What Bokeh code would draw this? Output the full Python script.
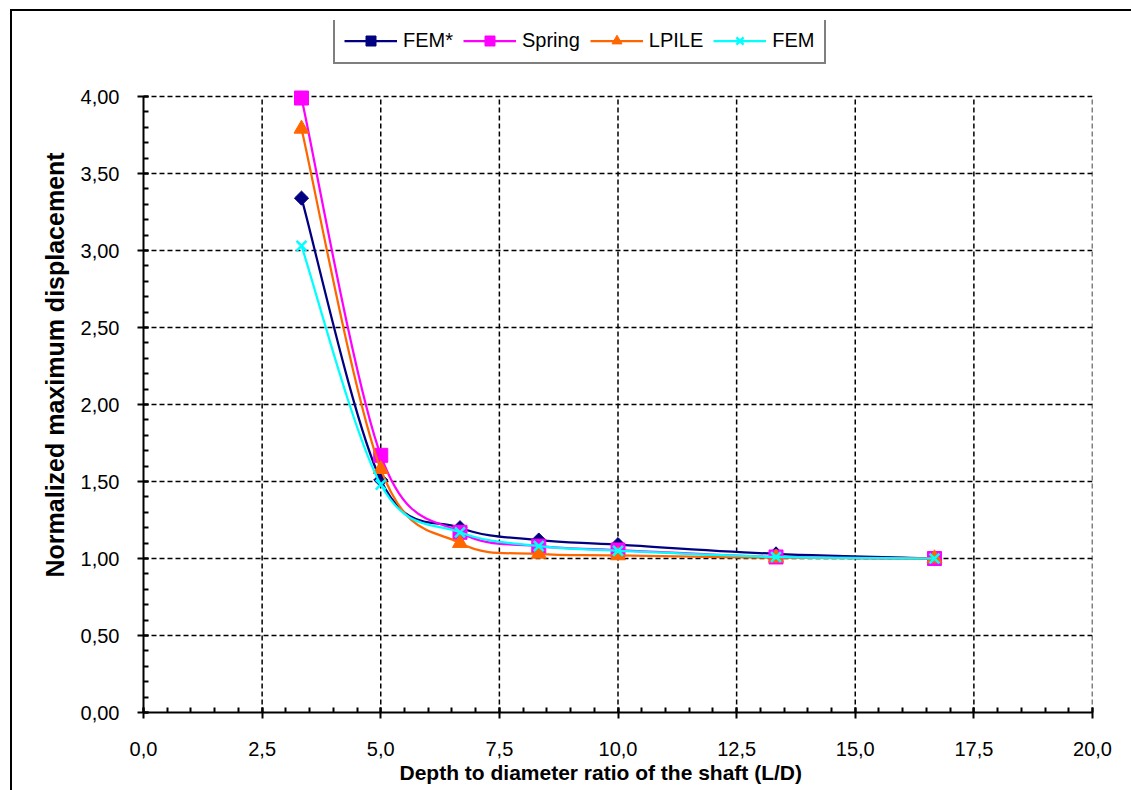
import numpy as np
from bokeh.plotting import figure
from bokeh.models import (SingleIntervalTicker, CustomJSTickFormatter, Legend,
                          LegendItem, Title, Range1d, InlineStyleSheet)
from bokeh.embed import file_html
from bokeh.resources import INLINE

# ---- data ----
x_ratio = [3.33, 5.0, 6.67, 8.33, 10.0, 13.33, 16.67]
fem_star = [3.34, 1.51, 1.20, 1.12, 1.09, 1.03, 1.00]
spring = [3.99, 1.67, 1.17, 1.08, 1.055, 1.01, 1.00]
lpile = [3.79, 1.58, 1.10, 1.03, 1.02, 1.005, 1.00]
fem = [3.03, 1.48, 1.17, 1.08, 1.05, 1.01, 1.00]

series_names = ["FEM*", "Spring", "LPILE", "FEM"]
series_values = [fem_star, spring, lpile, fem]
series_colors = ["#000080", "#FF00FF", "#FF6600", "#00FFFF"]

x_gridlines = [2.5, 5.0, 7.5, 10.0, 12.5, 15.0, 17.5, 20.0]
y_axis_max = 4.0

x_title = "Depth to diameter ratio of the shaft (L/D)"
y_title = "Normalized maximum displacement"

FONT = "Liberation Sans"


def smooth_segments(xs, ys):
    """Cubic Bezier control points (Catmull-Rom style, like Excel smoothed lines)."""
    n = len(xs)
    seg = dict(x0=[], y0=[], x1=[], y1=[], cx0=[], cy0=[], cx1=[], cy1=[])
    for i in range(n - 1):
        a = i - 1 if i > 0 else i
        d = i + 2 if i + 2 < n else i + 1
        seg["x0"].append(xs[i]); seg["y0"].append(ys[i])
        seg["x1"].append(xs[i + 1]); seg["y1"].append(ys[i + 1])
        seg["cx0"].append(xs[i] + (xs[i + 1] - xs[a]) / 6)
        seg["cy0"].append(ys[i] + (ys[i + 1] - ys[a]) / 6)
        seg["cx1"].append(xs[i + 1] - (xs[d] - xs[i]) / 6)
        seg["cy1"].append(ys[i + 1] - (ys[d] - ys[i]) / 6)
    return seg


# frame extends above the y=4 limit so the legend (which sits above the plot
# area in the reference) is not clipped; the axis and grid are bounded to 0..4
FRAME_TOP, FRAME_BOTTOM, Y4_PIX = 20, 712, 96
y_end = y_axis_max * (FRAME_BOTTOM - FRAME_TOP) / (FRAME_BOTTOM - Y4_PIX)

p = figure(width=1131, height=790, x_range=Range1d(0, 20), y_range=Range1d(0, y_end),
           output_backend="svg", toolbar_location=None,
           min_border_left=143, min_border_right=39,
           min_border_top=FRAME_TOP, min_border_bottom=790 - FRAME_BOTTOM)
p.outline_line_color = None
p.background_fill_color = "white"
p.border_fill_color = "white"

# outer chart-area frame (left and top edges visible in the reference)
p.stylesheets = [InlineStyleSheet(css=(
    ":host::after{content:'';position:absolute;left:10px;top:9px;right:0;bottom:0;"
    "border-left:2px solid #000;border-top:2px solid #000;pointer-events:none;}"))]

p.xaxis.ticker = SingleIntervalTicker(interval=2.5, num_minor_ticks=5)
p.yaxis.ticker = SingleIntervalTicker(interval=0.5, num_minor_ticks=5)
p.yaxis.bounds = (0, y_axis_max)
p.xaxis.formatter = CustomJSTickFormatter(code="return tick.toFixed(1).replace('.', ',');")
p.yaxis.formatter = CustomJSTickFormatter(code="return tick.toFixed(2).replace('.', ',');")

for ax in (p.xaxis, p.yaxis):
    ax.axis_line_color = "black"
    ax.axis_line_width = 2
    ax.major_tick_line_color = "black"
    ax.major_tick_line_width = 2
    ax.minor_tick_line_color = "black"
    ax.minor_tick_line_width = 2
    ax.major_tick_in = 5
    ax.major_tick_out = 6
    ax.minor_tick_in = 5
    ax.minor_tick_out = 0
    ax.major_label_text_font = FONT
    ax.major_label_text_font_size = "20px"
    ax.major_label_text_color = "black"
p.xaxis.major_label_standoff = 23
p.yaxis.major_label_standoff = 18

# horizontal dashed grid from the y axis ticks (bounded to 0..4)
p.ygrid.bounds = (0, y_axis_max)
p.ygrid.grid_line_color = "black"
p.ygrid.grid_line_dash = "5 3"
p.ygrid.grid_line_width = 1.5
# vertical dashed grid lines only span 0..4
p.xgrid.visible = False
p.segment(x0=x_gridlines, y0=[0] * len(x_gridlines), x1=x_gridlines,
          y1=[y_axis_max] * len(x_gridlines),
          line_color="black", line_dash="5 3", line_width=1.5)

items = []
markers = [("square", np.pi / 4, 10), ("square", 0, 14), ("triangle", 0, 15), ("x", 0, 14)]
for name, vals, col, (mk, ang, sz) in zip(series_names, series_values, series_colors, markers):
    seg = smooth_segments(x_ratio, vals)
    bz = p.bezier(x0=seg["x0"], y0=seg["y0"], x1=seg["x1"], y1=seg["y1"],
                  cx0=seg["cx0"], cy0=seg["cy0"], cx1=seg["cx1"], cy1=seg["cy1"],
                  line_color=col, line_width=2.25)
    sc = p.scatter(x=x_ratio, y=vals, marker=mk, angle=ang, size=sz,
                   fill_color=col, line_color=col, line_width=2.5 if mk == "x" else 1)
    items.append(LegendItem(label=name, renderers=[bz, sc]))

legend = Legend(items=items, orientation="horizontal", location=(190, FRAME_BOTTOM - 64),
                margin=0, border_line_color="black", border_line_width=2, padding=9,
                spacing=10, glyph_width=53, glyph_height=25, label_standoff=6,
                label_text_font=FONT, label_text_font_size="20px", label_text_color="black",
                background_fill_color="white", background_fill_alpha=1)
p.add_layout(legend)

p.add_layout(Title(text=x_title, align="left", offset=256, standoff=0, text_color="black",
                   text_font=FONT, text_font_size="21px", text_font_style="bold"), "below")
p.add_layout(Title(text=y_title, align="left", offset=135, standoff=17, text_color="black",
                   text_font=FONT, text_font_size="25px", text_font_style="bold"), "left")

open("out.html", "w").write(file_html(p, INLINE))
